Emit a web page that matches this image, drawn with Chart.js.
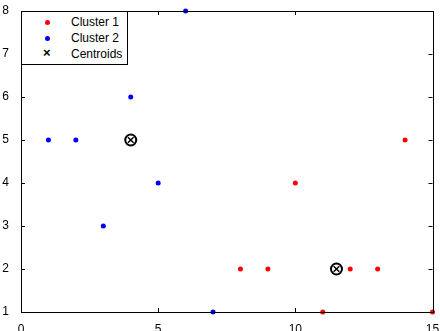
<!DOCTYPE html>
<html>
<head>
<meta charset="utf-8">
<script src="https://cdn.jsdelivr.net/npm/chart.js@4.4.0/dist/chart.umd.min.js"></script>
<style>
    html, body { margin: 0; padding: 0; background: #fff; }
    #wrap { position: relative; width: 440px; height: 331px; }
    #legend {
        position: absolute; left: 21px; top: 11px; width: 105px; height: 52px;
        border: 1px solid #000; background: #fff;
        font: 12px "Liberation Sans", Arial, sans-serif; color: #000;
    }
    .row { position: absolute; left: 0; height: 14px; line-height: 14px; }
    .mark { position: absolute; left: 23px; top: 5px; width: 5px; height: 5px; border-radius: 50%; }
    .txt { position: absolute; left: 49px; white-space: nowrap; }
    .cross { position: absolute; left: 21px; top: -1px; font-weight: bold; font-size: 13px; }
</style>
</head>
<body>
<div id="wrap">
    <canvas id="chart" width="440" height="331"></canvas>
    <div id="legend">
        <div class="row" style="top:3px"><span class="mark" style="background:#ff0000"></span><span class="txt">Cluster 1</span></div>
        <div class="row" style="top:19px"><span class="mark" style="background:#0000ff"></span><span class="txt">Cluster 2</span></div>
        <div class="row" style="top:35px"><span class="cross">×</span><span class="txt">Centroids</span></div>
    </div>
</div>
<script>
const clusterOneX = [8, 9, 10, 11, 12, 13, 14, 15];
const clusterOneY = [2, 2, 4, 1, 2, 2, 5, 1];
const clusterTwoX = [1, 2, 3, 4, 5, 6, 7];
const clusterTwoY = [5, 5, 3, 6, 4, 8, 1];
const centroidX = [4, 11.5];
const centroidY = [5, 2];
const xTicks = [0, 5, 10, 15];
const yTicks = [1, 2, 3, 4, 5, 6, 7, 8];

function toPoints(xs, ys) {
    return xs.map((x, i) => ({ x: x, y: ys[i] }));
}

// box round the plot and inward tick marks, matlab style
const boxTicks = {
    id: "boxTicks",
    afterDraw(chart) {
        const ctx = chart.ctx;
        const a = chart.chartArea;
        const xs = chart.scales.x;
        const ys = chart.scales.y;
        ctx.save();
        ctx.strokeStyle = "#000";
        ctx.lineWidth = 1;
        ctx.beginPath();
        xTicks.forEach((v) => {
            const px = Math.round(xs.getPixelForValue(v)) + 0.5;
            ctx.moveTo(px, a.bottom);
            ctx.lineTo(px, a.bottom - 4);
            ctx.moveTo(px, a.top);
            ctx.lineTo(px, a.top + 4);
        });
        yTicks.forEach((v) => {
            const py = Math.round(ys.getPixelForValue(v)) + 0.5;
            ctx.moveTo(a.left, py);
            ctx.lineTo(a.left + 4, py);
            ctx.moveTo(a.right, py);
            ctx.lineTo(a.right - 4, py);
        });
        ctx.stroke();
        ctx.strokeRect(Math.round(a.left) + 0.5, Math.round(a.top) + 0.5,
            Math.round(a.right - a.left), Math.round(a.bottom - a.top));
        ctx.restore();
    },
};

const ctx = document.getElementById("chart");
new Chart(ctx, {
    type: "scatter",
    data: {
        datasets: [
            {
                label: "Cluster 1",
                data: toPoints(clusterOneX, clusterOneY),
                backgroundColor: "#ff0000",
                borderColor: "#ff0000",
                pointRadius: 2.5,
                borderWidth: 0,
                clip: false,
            },
            {
                label: "Cluster 2",
                data: toPoints(clusterTwoX, clusterTwoY),
                backgroundColor: "#0000ff",
                borderColor: "#0000ff",
                pointRadius: 2.5,
                borderWidth: 0,
                clip: false,
            },
            {
                label: "Centroid rings",
                data: toPoints(centroidX, centroidY),
                pointStyle: "circle",
                backgroundColor: "rgba(0,0,0,0)",
                borderColor: "#000",
                pointRadius: 5.5,
                borderWidth: 2,
                clip: false,
            },
            {
                label: "Centroids",
                data: toPoints(centroidX, centroidY),
                pointStyle: "crossRot",
                borderColor: "#000",
                pointRadius: 4,
                borderWidth: 1.5,
                clip: false,
            },
        ],
    },
    options: {
        responsive: false,
        animation: false,
        layout: { padding: { top: 11, right: 4, left: 0, bottom: 0 } },
        plugins: {
            legend: { display: false },
            tooltip: { enabled: false },
        },
        scales: {
            x: {
                type: "linear",
                min: 0,
                max: 15,
                afterBuildTicks: (s) => { s.ticks = xTicks.map((v) => ({ value: v })); },
                afterFit: (s) => { s.height = 19; s.paddingRight = 0; s.paddingLeft = 0; },
                grid: { display: false },
                border: { display: false },
                ticks: {
                    color: "#000",
                    padding: 2,
                    maxRotation: 0,
                    font: { family: "Liberation Sans", size: 12 },
                },
            },
            y: {
                type: "linear",
                min: 1,
                max: 8,
                afterBuildTicks: (s) => { s.ticks = yTicks.map((v) => ({ value: v })); },
                afterFit: (s) => { s.width = 21; s.paddingTop = 0; s.paddingBottom = 0; },
                grid: { display: false },
                border: { display: false },
                ticks: {
                    color: "#000",
                    padding: 4,
                    font: { family: "Liberation Sans", size: 12 },
                },
            },
        },
    },
    plugins: [boxTicks],
});
</script>
</body>
</html>
